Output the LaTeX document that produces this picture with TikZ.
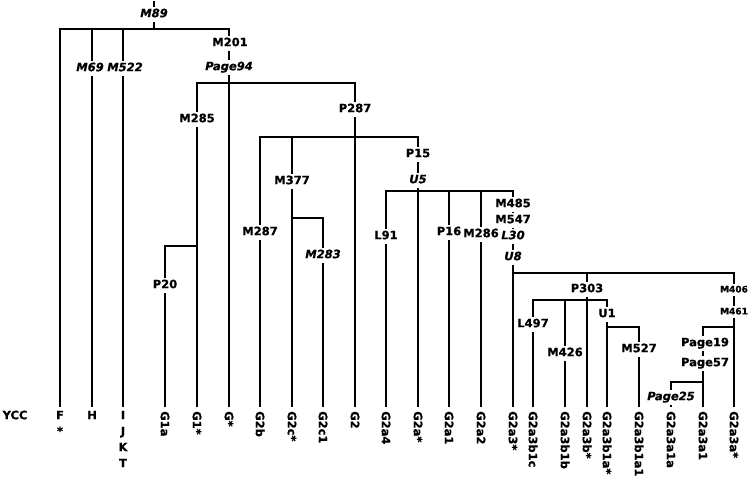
\documentclass[tikz,border=0pt]{standalone}
\usepackage{fontspec}
\setmainfont{DejaVu Sans}[BoldFeatures={FakeBold=0.8}, BoldItalicFeatures={FakeBold=0.8}]
\newcommand\lblfont{\fontsize{11.5}{13}\selectfont\bfseries}
\newcommand\ilblfont{\fontsize{11.5}{13}\selectfont\bfseries\itshape}
\newcommand\slblfont{\fontsize{9}{10}\selectfont\bfseries}
\begin{document}
\begin{tikzpicture}[x=1pt,y=-1pt,
  lbl/.style={font=\lblfont, fill=white, inner xsep=1pt, inner ysep=2pt, text height=8.4pt, text depth=2.4pt, yshift=-1.2pt},
  ilbl/.style={lbl, font=\ilblfont},
  slbl/.style={lbl, font=\slblfont, text height=6.6pt, text depth=1.9pt, yshift=-0.9pt},
  leaf/.style={font=\lblfont, rotate=-90, anchor=west, inner xsep=4pt, inner ysep=0pt, text height=8.4pt, text depth=0pt},
  hleaf/.style={font=\lblfont, inner xsep=0pt, inner ysep=3.8pt, text height=8.4pt, text depth=0pt},
  br/.style={line width=2.5pt, line join=miter}]
\useasboundingbox (0,0) rectangle (750,478);
% leaves
\node[hleaf] (ycc) at (15,415) {YCC};
\node[hleaf] (F) at (60,415) {F};
\node[hleaf] (Fs) at (60,431) {*};
\node[hleaf] (H) at (92,415) {H};
\node[hleaf] (I) at (123,415) {I};
\node[hleaf] (J) at (123,431) {J};
\node[hleaf] (K) at (123,447) {K};
\node[hleaf] (T) at (123,463) {T};
\node[leaf] (G1a) at (165,407) {G1a};
\node[leaf] (G1s) at (197,407) {G1*};
\node[leaf] (Gs) at (229,407) {G*};
\node[leaf] (G2b) at (260,407) {G2b};
\node[leaf] (G2cs) at (292,407) {G2c*};
\node[leaf] (G2c1) at (323,407) {G2c1};
\node[leaf] (G2) at (355,407) {G2};
\node[leaf] (G2a4) at (386,407) {G2a4};
\node[leaf] (G2as) at (418,407) {G2a*};
\node[leaf] (G2a1) at (449,407) {G2a1};
\node[leaf] (G2a2) at (481,407) {G2a2};
\node[leaf] (G2a3s) at (513,407) {G2a3*};
\node[leaf] (G2a3b1c) at (533,407) {G2a3b1c};
\node[leaf] (G2a3b1b) at (565,407) {G2a3b1b};
\node[leaf] (G2a3bs) at (587,407) {G2a3b*};
\node[leaf] (G2a3b1as) at (607,407) {G2a3b1a*};
\node[leaf] (G2a3b1a1) at (639,407) {G2a3b1a1};
\node[leaf] (G2a3a1a) at (671,407) {G2a3a1a};
\node[leaf] (G2a3a1) at (703,407) {G2a3a1};
\node[leaf] (G2a3as) at (734,407) {G2a3a*};
% junctions
\coordinate (top) at (154,1);
\coordinate (r0) at (154,29);
\coordinate (aF) at (60,29);
\coordinate (aG) at (229,29);
\coordinate (b1) at (197,83);
\coordinate (b2) at (355,83);
\coordinate (p1) at (165,246);
\coordinate (p2) at (197,246);
\coordinate (c1) at (260,137);
\coordinate (c2) at (418,137);
\coordinate (d1) at (292,218);
\coordinate (d2) at (323,218);
\coordinate (e1) at (386,191);
\coordinate (e2) at (513,191);
\coordinate (f1) at (513,273);
\coordinate (f2) at (734,273);
\coordinate (g1) at (533,300);
\coordinate (g2) at (607,300);
\coordinate (h1) at (607,327);
\coordinate (h2) at (639,327);
\coordinate (i1) at (703,327);
\coordinate (i2) at (734,327);
\coordinate (j1) at (671,382);
\coordinate (j2) at (703,382);
% branches
\draw[br] (top) -- (r0);
\draw[br] (F.north) -- (aF) -- (aG) -- (Gs.west);
\draw[br] (H.north) -- (H.north |- aF);
\draw[br] (I.north) -- (I.north |- aF);
\draw[br] (G1s.west) -- (b1) -- (b2) -- (G2.west);
\draw[br] (G1a.west) -- (p1) -- (p2);
\draw[br] (G2b.west) -- (c1) -- (c2) -- (G2as.west);
\draw[br] (G2cs.west) -- (G2cs.west |- c1);
\draw[br] (d1) -- (d2) -- (G2c1.west);
\draw[br] (G2a4.west) -- (e1) -- (e2) -- (G2a3s.west);
\draw[br] (G2a1.west) -- (G2a1.west |- e1);
\draw[br] (G2a2.west) -- (G2a2.west |- e1);
\draw[br] (f1) -- (f2) -- (G2a3as.west);
\draw[br] (G2a3bs.west) -- (G2a3bs.west |- f1);
\draw[br] (G2a3b1c.west) -- (g1) -- (g2) -- (G2a3b1as.west);
\draw[br] (G2a3b1b.west) -- (G2a3b1b.west |- g1);
\draw[br] (h1) -- (h2) -- (G2a3b1a1.west);
\draw[br] (G2a3a1.west) -- (i1) -- (i2);
\draw[br] (G2a3a1a.west) -- (j1) -- (j2);
% labels
\node[ilbl] (M89) at (154,13) {M89};
\node[ilbl] (M69) at (90,67) {M69};
\node[ilbl] (M522) at (125,67) {M522};
\node[lbl] (M201) at (230,42) {M201};
\node[ilbl] (Page94) at (229,66) {Page94};
\node[lbl] (M285) at (197,118) {M285};
\node[lbl] (P20) at (165,284) {P20};
\node[lbl] (P287) at (355,108) {P287};
\node[lbl] (M287) at (260,231) {M287};
\node[lbl] (M377) at (292,180) {M377};
\node[ilbl] (M283) at (323,254) {M283};
\node[lbl] (P15) at (418,153) {P15};
\node[ilbl] (U5) at (418,179) {U5};
\node[lbl] (L91) at (386,235) {L91};
\node[lbl] (P16) at (449,231) {P16};
\node[lbl] (M286) at (481,233) {M286};
\node[lbl] (M485) at (513,203) {M485};
\node[lbl] (M547) at (513,219) {M547};
\node[ilbl] (L30) at (513,235) {L30};
\node[ilbl] (U8) at (513,256) {U8};
\node[lbl] (P303) at (587,288) {P303};
\node[lbl] (L497) at (533,323) {L497};
\node[lbl] (M426) at (565,352) {M426};
\node[lbl] (U1) at (607,313) {U1};
\node[lbl] (M527) at (639,348) {M527};
\node[slbl] (M406) at (734,288) {M406};
\node[slbl] (M461) at (734,310) {M461};
\node[lbl] (Page19) at (705,342) {Page19};
\node[lbl] (Page57) at (705,362) {Page57};
\node[ilbl] (Page25) at (671,396) {Page25};
\end{tikzpicture}
\end{document}
